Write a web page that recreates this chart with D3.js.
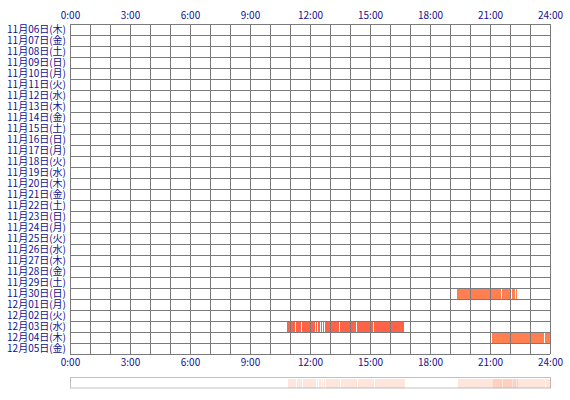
<!DOCTYPE html>
<html><head><meta charset="utf-8">
<script src="https://cdn.jsdelivr.net/npm/d3@7"></script>
<style>body{margin:0;background:#fff;}svg{display:block;}</style>
</head><body>
<svg id="c" width="570" height="400"></svg>
<script>
const days = ["11月06日(木)","11月07日(金)","11月08日(土)","11月09日(日)","11月10日(月)","11月11日(火)","11月12日(水)","11月13日(木)","11月14日(金)","11月15日(土)","11月16日(日)","11月17日(月)","11月18日(火)","11月19日(水)","11月20日(木)","11月21日(金)","11月22日(土)","11月23日(日)","11月24日(月)","11月25日(火)","11月26日(水)","11月27日(木)","11月28日(金)","11月29日(土)","11月30日(日)","12月01日(月)","12月02日(火)","12月03日(水)","12月04日(木)","12月05日(金)"];
const tickHours = [0,3,6,9,12,15,18,21,24];
const tickLabels = ["0:00","3:00","6:00","9:00","12:00","15:00","18:00","21:00","24:00"];
// sessions: [day, startHour, endHour]
const sessionDays = ["11月30日(日)","11月30日(日)","11月30日(日)","11月30日(日)",
  "12月03日(水)","12月03日(水)","12月03日(水)","12月03日(水)","12月03日(水)","12月03日(水)","12月03日(水)","12月03日(水)","12月03日(水)","12月03日(水)","12月03日(水)",
  "12月04日(木)","12月04日(木)"];
const sessionStart = [19.35,21.6,22.1,22.3, 10.85,11.3,11.6,12.3,12.4,12.55,12.65,12.75,13.5,14.35,15.2, 21.1,23.75];
const sessionEnd   = [21.55,22.05,22.25,22.35, 11.25,11.55,12.25,12.35,12.5,12.6,12.7,13.45,14.3,15.15,16.7, 23.7,24];
const dayColors = {"11月30日(日)":"#ff7f50","12月03日(水)":"#ff6347","12月04日(木)":"#ff7f50"};

(function(){
const svg = d3.select("#c");
const mLeft = 70, mRight = 550, mTop = 24, rowH = 11;
const x = d3.scaleLinear().domain([0,24]).range([mLeft,mRight]);
const y = d3.scaleBand().domain(days).range([mTop, mTop + rowH*days.length]);
const mBottom = mTop + rowH*days.length;
const textColor = "#101090";
const font = "'Noto Sans CJK JP', 'DejaVu Sans', sans-serif";

// bars
const sessions = sessionDays.map((d,i)=>({d, s:sessionStart[i], e:sessionEnd[i]}));
svg.append("g").selectAll("rect").data(sessions).join("rect")
  .attr("x", d=>x(d.s)).attr("width", d=>x(d.e)-x(d.s))
  .attr("y", d=>y(d.d)+1).attr("height", rowH-1)
  .attr("fill", d=>dayColors[d.d]);

// grid
const g = svg.append("g").attr("stroke","#7a7a7a").attr("stroke-width",1).attr("shape-rendering","crispEdges");
g.selectAll("line.v").data(d3.range(0,25)).join("line").attr("class","v")
  .attr("x1", h=>x(h)).attr("x2", h=>x(h)).attr("y1", mTop).attr("y2", mBottom);
g.selectAll("line.h").data(d3.range(0,days.length+1)).join("line").attr("class","h")
  .attr("x1", mLeft).attr("x2", mRight).attr("y1", i=>mTop+i*rowH).attr("y2", i=>mTop+i*rowH);

// day labels
svg.append("g").selectAll("text").data(days).join("text")
  .attr("x", 66).attr("y", d=>y(d)+rowH/2).attr("dy","0.36em")
  .attr("text-anchor","end").attr("fill",textColor)
  .attr("font-family",font).attr("font-size","10px").text(d=>d);

// axes labels top & bottom
const axisTop = d3.axisTop(x).tickValues(tickHours).tickFormat((d,i)=>tickLabels[i]).tickSize(0).tickPadding(0);
const at = svg.append("g").attr("transform","translate(0,19)").call(axisTop);
const axisBottom = d3.axisBottom(x).tickValues(tickHours).tickFormat((d,i)=>tickLabels[i]).tickSize(0).tickPadding(0);
const ab = svg.append("g").attr("transform","translate(0,359)").call(axisBottom);
[at,ab].forEach(a=>{a.select(".domain").remove();
  a.selectAll("text").attr("fill",textColor).attr("font-family",font).attr("font-size","10px");});

// overview strip
const ov = svg.append("g");
ov.append("rect").attr("x",mLeft+0.5).attr("y",377.5).attr("width",mRight-mLeft).attr("height",10.5)
  .attr("fill","#fff").attr("stroke","#c0c0c0");
ov.selectAll("rect.s").data(sessions).join("rect").attr("class","s")
  .attr("x", d=>x(d.s)+1).attr("width", d=>x(d.e)-x(d.s))
  .attr("y",379).attr("height",9).attr("fill","#ff7f50").attr("fill-opacity",0.2);
})();
</script>
</body></html>
